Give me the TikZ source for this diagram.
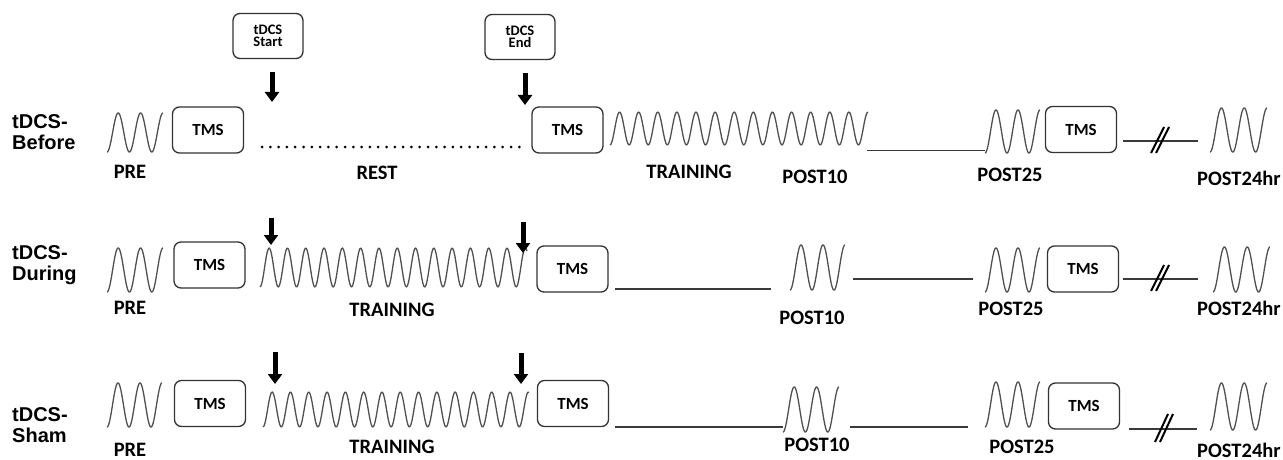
\documentclass[tikz,border=0pt]{standalone}
\usepackage{fontspec}
\setmainfont{Carlito}
\newfontfamily\rowfont{Liberation Sans}
\usetikzlibrary{arrows.meta}

\definecolor{wavegray}{HTML}{505050}
\definecolor{linegray}{HTML}{3A3A3A}
\definecolor{boxgray}{HTML}{333333}

% a sine trace that starts in a trough at x0 and ends at x1
\newcommand\wavetrace[6]{%
  \draw[wave] plot[domain=#2:#3, samples=260, variable=\t]
    (\t, {#4 + #5*cos((\t-#2)*(360/#6))});
  \coordinate (#1-s) at (#2, {#4+#5});
}

\tikzset{
  wave/.style={draw=wavegray, line width=1.3pt, line join=round},
  tmsbox/.style={draw=boxgray, line width=1.3pt, rounded corners=7pt,
    minimum width=71pt, minimum height=46pt, inner sep=0pt,
    font=\fontsize{17}{17}\selectfont\bfseries},
  cuebox/.style={draw=boxgray, line width=1.3pt, rounded corners=7pt,
    minimum width=70pt, minimum height=45pt, inner sep=0pt, align=center,
    font=\fontsize{14.5}{12.5}\selectfont\bfseries},
  phase/.style={inner sep=0pt, font=\fontsize{20.5}{20.5}\selectfont\bfseries},
  rowlabel/.style={inner sep=0pt, anchor=west, align=left,
    font=\rowfont\bfseries\fontsize{20}{21}\selectfont},
  cue/.style={-{Triangle[width=14pt,length=10pt]}, line width=5pt, draw=black},
  link/.style={draw=linegray, line width=1.4pt},
  restline/.style={draw=black, line width=3pt, line cap=round,
    dash pattern=on 0pt off 8.3pt},
  breakmark/.style={draw=black, line width=2pt},
}

\begin{document}
\begin{tikzpicture}[x=1pt, y=-1pt]
\useasboundingbox (0,0) rectangle (1283,460);

% ---------------- tDCS-Before ----------------
\node[rowlabel] (lab1) at (12,132.5) {tDCS-\\Before};
\wavetrace{b-pre}{107}{163}{132.5}{19.5}{22.4}
\node[phase] (b-prel) at (130,172) {PRE};
\node[tmsbox] (b-tms1) at (208,130) {TMS};
\node[cuebox] (startbox) at (268,36) {tDCS\\Start};
\coordinate (b-a1s) at (272,72);  \coordinate (b-a1e) at (272,102);
\draw[cue] (b-a1s) -- (b-a1e);
\coordinate (b-r1) at (262,147); \coordinate (b-r2) at (522,147);
\draw[restline] (b-r1) -- (b-r2);
\node[phase] (b-restl) at (377,173) {REST};
\node[cuebox] (endbox) at (520,37) {tDCS\\End};
\coordinate (b-a2s) at (525,73);  \coordinate (b-a2e) at (525,105);
\draw[cue] (b-a2s) -- (b-a2e);
\node[tmsbox] (b-tms2) at (567.5,130) {TMS};
\wavetrace{b-train}{610}{868}{128.5}{16.5}{19.11}
\node[phase] (b-trainl) at (689,172) {TRAINING};
\node[phase] (b-p10l) at (815,177) {POST10};
\coordinate (b-l1s) at (867,150.5); \coordinate (b-l1e) at (985,150.5);
\draw[link] (b-l1s) -- (b-l1e);
\wavetrace{b-p25}{985}{1040}{131.5}{21.5}{22}
\node[phase] (b-p25l) at (1010,175) {POST25};
\node[tmsbox] (b-tms3) at (1081,129.5) {TMS};
\coordinate (b-l2s) at (1123,141); \coordinate (b-l2e) at (1198,141);
\draw[link] (b-l2s) -- (b-l2e);
\draw[breakmark, shift={(1160,140)}] (-9,13) -- (4,-13) (-4,13) -- (9,-13);
\wavetrace{b-p24}{1210}{1267}{130}{22}{22.8}
\node[phase, anchor=west] (b-p24l) at (1197,178) {POST24hr};

% ---------------- tDCS-During ----------------
\node[rowlabel] (lab2) at (12,265) {tDCS-\\During};
\wavetrace{d-pre}{107}{163}{270}{22}{22.4}
\node[phase] (d-prel) at (130,308) {PRE};
\node[tmsbox] (d-tms1) at (209.5,265) {TMS};
\coordinate (d-a1s) at (271,218);  \coordinate (d-a1e) at (271,245);
\draw[cue] (d-a1s) -- (d-a1e);
\wavetrace{d-train}{260}{527}{267.5}{19.5}{18.3}
\node[phase] (d-trainl) at (392,310) {TRAINING};
\coordinate (d-a2s) at (523,222);  \coordinate (d-a2e) at (523,253);
\draw[cue] (d-a2s) -- (d-a2e);
\node[tmsbox] (d-tms2) at (572.5,269) {TMS};
\coordinate (d-l1s) at (615,289); \coordinate (d-l1e) at (771,289);
\draw[link] (d-l1s) -- (d-l1e);
\wavetrace{d-p10}{790}{845}{267.5}{22.5}{22}
\node[phase] (d-p10l) at (812,318) {POST10};
\coordinate (d-l2s) at (853,279); \coordinate (d-l2e) at (973,279);
\draw[link] (d-l2s) -- (d-l2e);
\wavetrace{d-p25}{985}{1040}{270}{22}{22}
\node[phase] (d-p25l) at (1011,309) {POST25};
\node[tmsbox] (d-tms3) at (1083,269) {TMS};
\coordinate (d-l3s) at (1123,279); \coordinate (d-l3e) at (1198,279);
\draw[link] (d-l3s) -- (d-l3e);
\draw[breakmark, shift={(1160,278)}] (-9,13) -- (4,-13) (-4,13) -- (9,-13);
\wavetrace{d-p24}{1213}{1270}{269.5}{22.5}{22.8}
\node[phase, anchor=west] (d-p24l) at (1197,308) {POST24hr};

% ---------------- tDCS-Sham ----------------
\node[rowlabel] (lab3) at (12,425) {tDCS-\\Sham};
\wavetrace{s-pre}{107}{162}{405}{22}{22}
\node[phase] (s-prel) at (130,450) {PRE};
\node[tmsbox] (s-tms1) at (210,403.5) {TMS};
\coordinate (s-a1s) at (275,352);  \coordinate (s-a1e) at (275,384);
\draw[cue] (s-a1s) -- (s-a1e);
\wavetrace{s-train}{263}{529}{409.5}{17.5}{18.3}
\node[phase] (s-trainl) at (392,447) {TRAINING};
\coordinate (s-a2s) at (521,353);  \coordinate (s-a2e) at (521,384);
\draw[cue] (s-a2s) -- (s-a2e);
\node[tmsbox] (s-tms2) at (573,403.5) {TMS};
\coordinate (s-l1s) at (615,427); \coordinate (s-l1e) at (783,427);
\draw[link] (s-l1s) -- (s-l1e);
\wavetrace{s-p10}{783}{839}{409.5}{22.5}{22.4}
\node[phase] (s-p10l) at (817,445) {POST10};
\coordinate (s-l2s) at (850,427); \coordinate (s-l2e) at (968,427);
\draw[link] (s-l2s) -- (s-l2e);
\wavetrace{s-p25}{985}{1040}{404.5}{22.5}{22}
\node[phase] (s-p25l) at (1022,447) {POST25};
\node[tmsbox] (s-tms3) at (1084,406) {TMS};
\coordinate (s-l3s) at (1129,429); \coordinate (s-l3e) at (1197,429);
\draw[link] (s-l3s) -- (s-l3e);
\draw[breakmark, shift={(1164,428)}] (-9,14) -- (4,-14) (-4,14) -- (9,-14);
\wavetrace{s-p24}{1210}{1267}{406.5}{23.5}{22.8}
\node[phase, anchor=west] (s-p24l) at (1197,450) {POST24hr};
\end{tikzpicture}
\end{document}
